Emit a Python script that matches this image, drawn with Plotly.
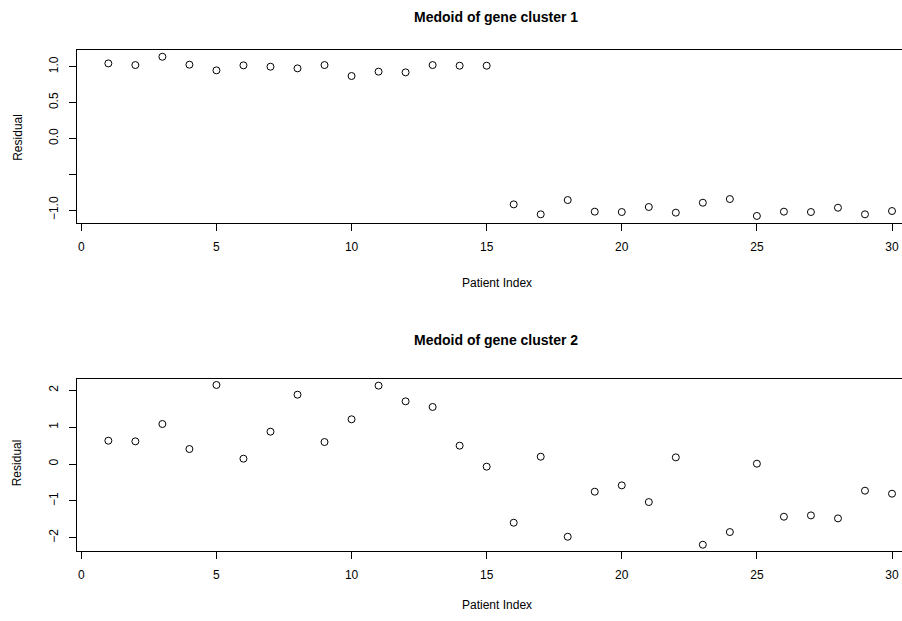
import plotly.graph_objects as go

patient_index = list(range(1, 31))

cluster1_residual = [1.046, 1.023, 1.139, 1.028, 0.949, 1.019, 1.000, 0.977, 1.023, 0.870,
                     0.931, 0.921, 1.023, 1.014, 1.014, -0.921, -1.060, -0.861, -1.023, -1.028,
                     -0.958, -1.037, -0.898, -0.847, -1.083, -1.023, -1.028, -0.968, -1.060, -1.014]

cluster2_residual = [0.633, 0.615, 1.086, 0.407, 2.145, 0.145, 0.878, 1.882, 0.597, 1.213,
                     2.127, 1.701, 1.548, 0.498, -0.072, -1.593, 0.199, -1.973, -0.751, -0.579,
                     -1.032, 0.181, -2.190, -1.846, 0.009, -1.430, -1.394, -1.475, -0.724, -0.805]

titles = ["Medoid of gene cluster 1", "Medoid of gene cluster 2"]
x_label = "Patient Index"
y_label = "Residual"

x_ticks = [0, 5, 10, 15, 20, 25, 30]
y1_ticks = [-1.0, -0.5, 0.0, 0.5, 1.0]
y1_ticktext = ["\u22121.0", "", "0.0", "0.5", "1.0"]
y2_ticks = [-2, -1, 0, 1, 2]
y2_ticktext = ["\u22122", "\u22121", "0", "1", "2"]

W, H = 902, 621
FONT = "Liberation Sans, Arial, Helvetica, sans-serif"

fig = go.Figure()

marker = dict(symbol="circle-open", size=7, color="black", line=dict(width=1, color="black"))
fig.add_trace(go.Scatter(x=patient_index, y=cluster1_residual, mode="markers",
                         xaxis="x", yaxis="y", marker=marker, showlegend=False,
                         cliponaxis=False))
fig.add_trace(go.Scatter(x=patient_index, y=cluster2_residual, mode="markers",
                         xaxis="x2", yaxis="y2", marker=marker, showlegend=False,
                         cliponaxis=False))

x_left = 77 / W
top_dom = [1 - 222.7 / H, 1 - 50.3 / H]
bot_dom = [1 - 551 / H, 1 - 378.7 / H]

xcommon = dict(range=[-0.16, 30.37], domain=[x_left, 1.0], showgrid=False, zeroline=False,
               showline=True, linecolor="black", linewidth=1, mirror=True,
               ticks="outside", ticklen=7, tickwidth=1, tickcolor="black",
               tickvals=x_ticks, ticktext=[str(v) for v in x_ticks],
               tickfont=dict(family=FONT, size=12, color="black"),
               ticklabelstandoff=6, automargin=False)
ycommon = dict(showgrid=False, zeroline=False, showline=True, linecolor="black",
               linewidth=1, mirror=False, ticks="outside", ticklen=7, tickwidth=1,
               tickcolor="black", tickangle=-90,
               tickfont=dict(family=FONT, size=12, color="black"),
               ticklabelstandoff=6, automargin=False)

fig.update_layout(
    width=W, height=H,
    margin=dict(l=0, r=0, t=0, b=0),
    paper_bgcolor="white", plot_bgcolor="white",
    xaxis=dict(anchor="y", **xcommon),
    yaxis=dict(anchor="x", domain=top_dom, range=[-1.177, 1.229],
               tickvals=y1_ticks, ticktext=y1_ticktext, **ycommon),
    xaxis2=dict(anchor="y2", **xcommon),
    yaxis2=dict(anchor="x2", domain=bot_dom, range=[-2.36, 2.315],
                tickvals=y2_ticks, ticktext=y2_ticktext, **ycommon),
)

annotations = []
for title, ty, xy, yy in [(titles[0], 16.7, 283, 137.5), (titles[1], 340, 605, 463)]:
    annotations.append(dict(text="<b>%s</b>" % title, x=496 / W, y=1 - ty / H,
                            xref="paper", yref="paper", xanchor="center", yanchor="middle",
                            showarrow=False, font=dict(family=FONT, size=14, color="black")))
    annotations.append(dict(text=x_label, x=497 / W, y=1 - xy / H,
                            xref="paper", yref="paper", xanchor="center", yanchor="middle",
                            showarrow=False, font=dict(family=FONT, size=12, color="black")))
    annotations.append(dict(text=y_label, x=17.3 / W, y=1 - yy / H, textangle=-90,
                            xref="paper", yref="paper", xanchor="center", yanchor="middle",
                            showarrow=False, font=dict(family=FONT, size=12, color="black")))
fig.update_layout(annotations=annotations)

fig.write_html("out.html", config={"displayModeBar": False},
               post_script="document.body.style.margin='0';document.body.style.overflow='hidden';")
